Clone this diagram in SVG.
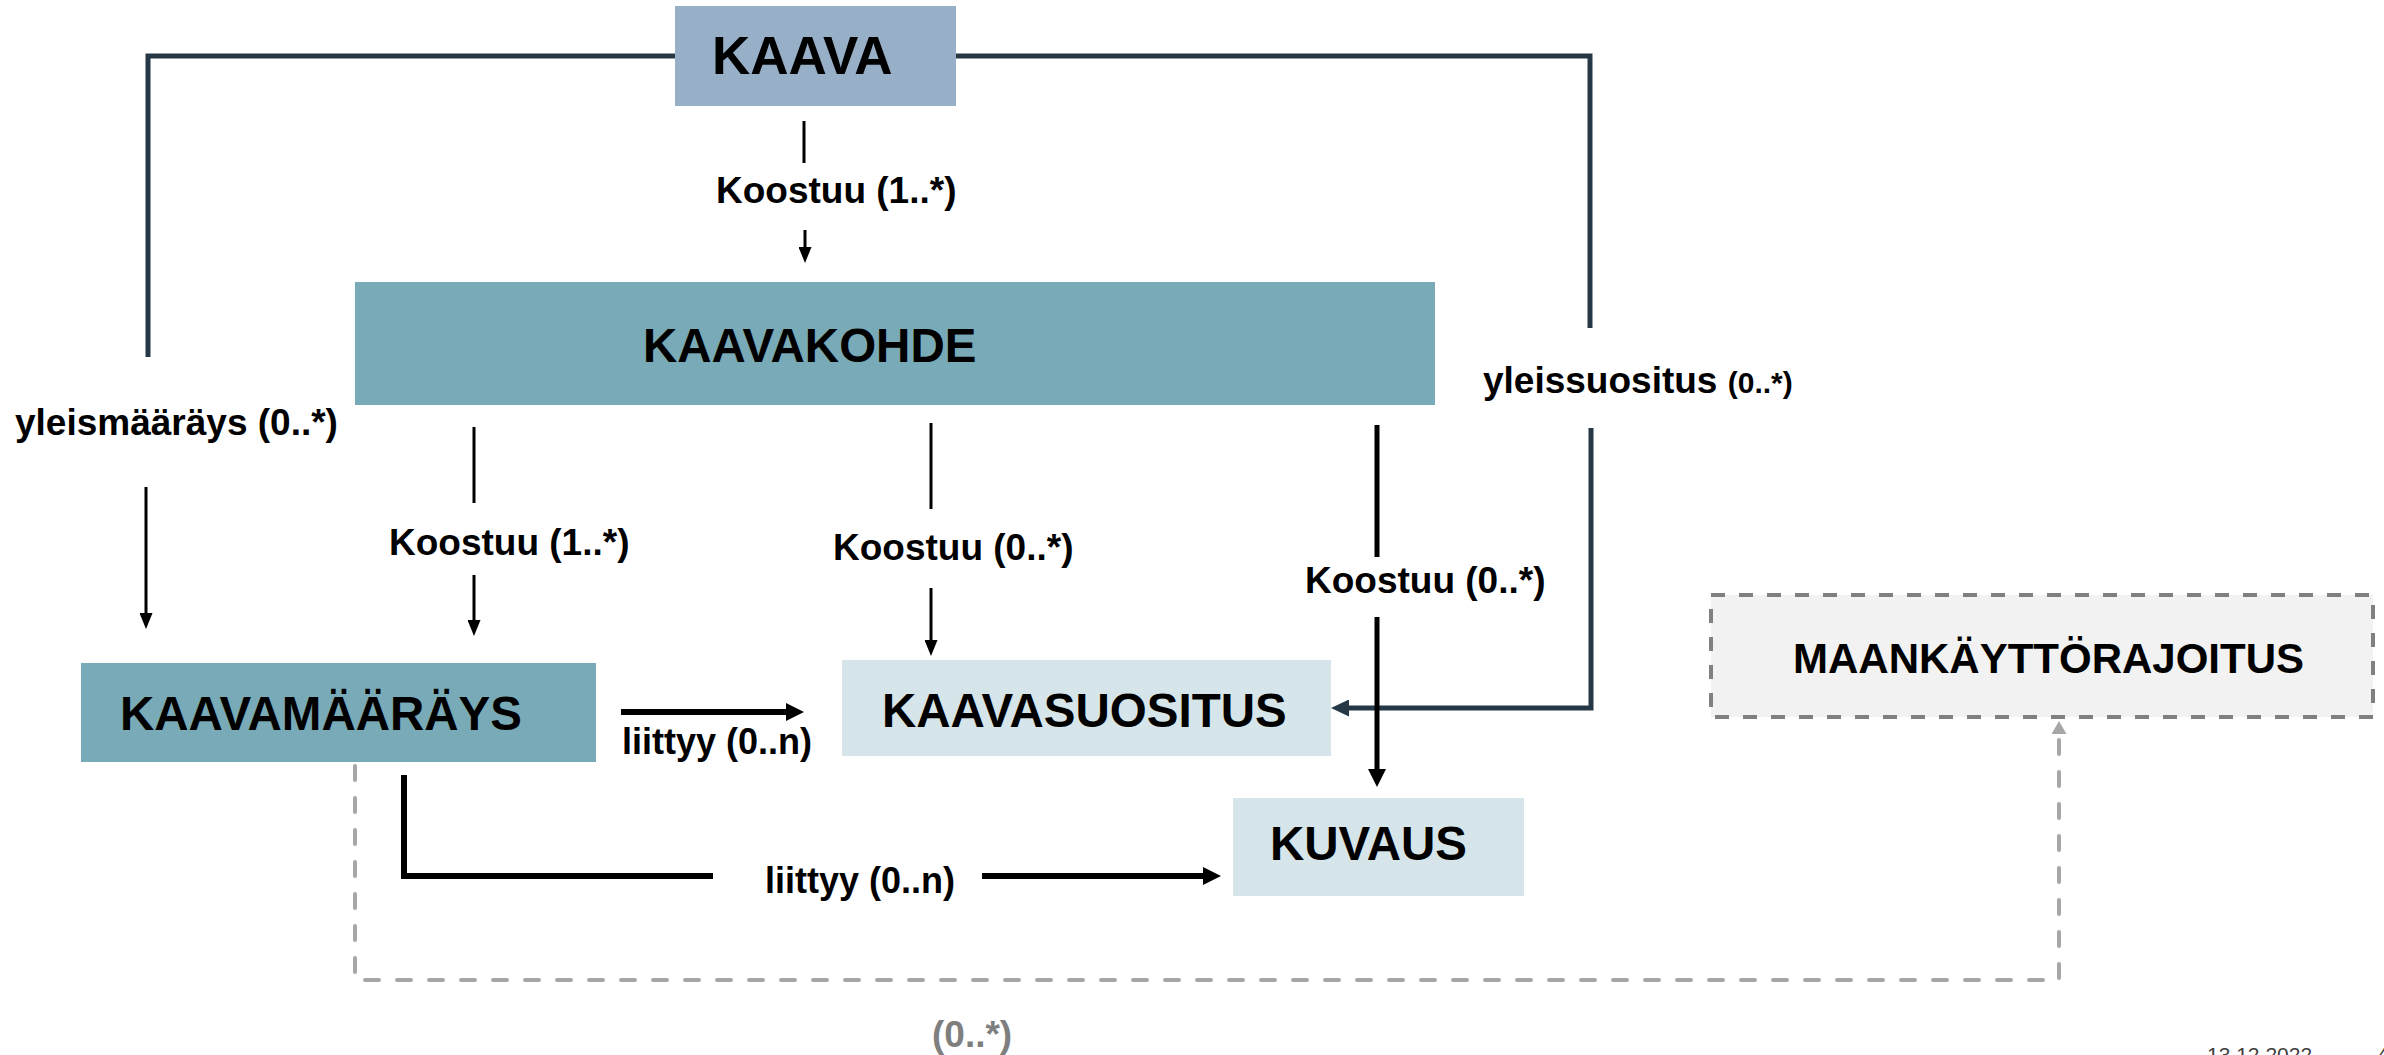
<svg xmlns="http://www.w3.org/2000/svg" width="2384" height="1055" viewBox="0 0 2384 1055">
<style>
text{font-family:"Liberation Sans",Arial,sans-serif;font-weight:bold;fill:#000}
.lbl{font-size:37px}
.lbl2{font-size:36px}
.big{font-size:47.5px}
.thin{stroke:#000;stroke-width:3;fill:none}
.thick{stroke:#000;stroke-width:6;fill:none}
.dark{stroke:#263746;stroke-width:5;fill:none}
.gray{stroke:#a6a6a6;stroke-width:4;fill:none;stroke-dasharray:14 18;stroke-linecap:round}
</style>
<defs>
<marker id="ah" markerUnits="userSpaceOnUse" markerWidth="16" markerHeight="13" refX="0" refY="6.5" orient="auto"><path d="M0,0 L16,6.5 L0,13 Z" fill="#000"/></marker>
<marker id="ahb" markerUnits="userSpaceOnUse" markerWidth="18" markerHeight="18" refX="0" refY="9" orient="auto"><path d="M0,0 L18,9 L0,18 Z" fill="#000"/></marker>
<marker id="ahd" markerUnits="userSpaceOnUse" markerWidth="18" markerHeight="17" refX="0" refY="8.5" orient="auto"><path d="M0,0 L18,8.5 L0,17 Z" fill="#263746"/></marker>
<marker id="ahg" markerUnits="userSpaceOnUse" markerWidth="13" markerHeight="15" refX="0" refY="7.5" orient="auto"><path d="M0,0 L13,7.5 L0,15 Z" fill="#a6a6a6"/></marker>
</defs>
<rect width="2384" height="1055" fill="#fff"/>
<g id="connectors">
<path class="dark" d="M675,56 H148 V357"/>
<path class="dark" d="M956,56 H1590 V328"/>
<path class="dark" d="M1591,428 V708 H1349" marker-end="url(#ahd)"/>
<line class="thin" x1="804" y1="121" x2="804" y2="163"/>
<line class="thin" x1="805" y1="230" x2="805" y2="247" marker-end="url(#ah)"/>
<line class="thin" x1="146" y1="487" x2="146" y2="613" marker-end="url(#ah)"/>
<line class="thin" x1="474" y1="427" x2="474" y2="503"/>
<line class="thin" x1="474" y1="575" x2="474" y2="620" marker-end="url(#ah)"/>
<line class="thin" x1="931" y1="423" x2="931" y2="509"/>
<line class="thin" x1="931" y1="588" x2="931" y2="640" marker-end="url(#ah)"/>
<line stroke="#000" stroke-width="5" x1="1377" y1="425" x2="1377" y2="557"/>
<line stroke="#000" stroke-width="5" x1="1377" y1="617" x2="1377" y2="769" marker-end="url(#ahb)"/>
<line class="thick" x1="621" y1="712" x2="786" y2="712" marker-end="url(#ahb)"/>
<path class="thick" d="M404,775 V876 H713"/>
<line class="thick" x1="982" y1="876" x2="1203" y2="876" marker-end="url(#ahb)"/>
<path class="gray" d="M355,766 V980 H2059 V734" marker-end="url(#ahg)"/>
<text class="lbl" x="716" y="203">Koostuu (1..*)</text>
<text class="lbl" x="15" y="435">yleismääräys (0..*)</text>
<text class="lbl" x="1483" y="393">yleissuositus <tspan style="font-size:30px">(0..*)</tspan></text>
<text class="lbl" x="389" y="555">Koostuu (1..*)</text>
<text class="lbl" x="833" y="560">Koostuu (0..*)</text>
<text class="lbl" x="1305" y="593">Koostuu (0..*)</text>
<text class="lbl2" x="622" y="754">liittyy (0..n)</text>
<text class="lbl2" x="765" y="893">liittyy (0..n)</text>
<text class="lbl" x="932" y="1047" style="fill:#7f7f7f">(0..*)</text>
</g>
<g id="kaava">
<rect x="675" y="6" width="281" height="100" fill="#97b0c8"/>
<text x="712" y="74" style="font-size:53px">KAAVA</text>
</g>
<g id="kaavakohde">
<rect x="355" y="282" width="1080" height="123" fill="#78abb7"/>
<text class="big" x="643" y="362">KAAVAKOHDE</text>
</g>
<g id="kaavamaarays">
<rect x="81" y="663" width="515" height="99" fill="#78abb7"/>
<text class="big" x="120" y="730">KAAVAMÄÄRÄYS</text>
</g>
<g id="kaavasuositus">
<rect x="842" y="660" width="489" height="96" fill="#d6e5ea"/>
<text class="big" x="882" y="727">KAAVASUOSITUS</text>
</g>
<g id="kuvaus">
<rect x="1233" y="798" width="291" height="98" fill="#d6e5ea"/>
<text class="big" x="1270" y="860">KUVAUS</text>
</g>
<g id="maankayttorajoitus">
<rect x="1711" y="595" width="662" height="122" fill="#f2f2f2" stroke="#808080" stroke-width="4" stroke-dasharray="14 14"/>
<text x="1793" y="673" style="font-size:42px">MAANKÄYTTÖRAJOITUS</text>
</g>
<g id="footer">
<text x="2207" y="1062" style="font-size:21px;font-weight:normal;fill:#404040">13.12.2022</text>
<text x="2377" y="1062" style="font-size:21px;font-weight:normal;fill:#404040">4</text>
</g>
</svg>
